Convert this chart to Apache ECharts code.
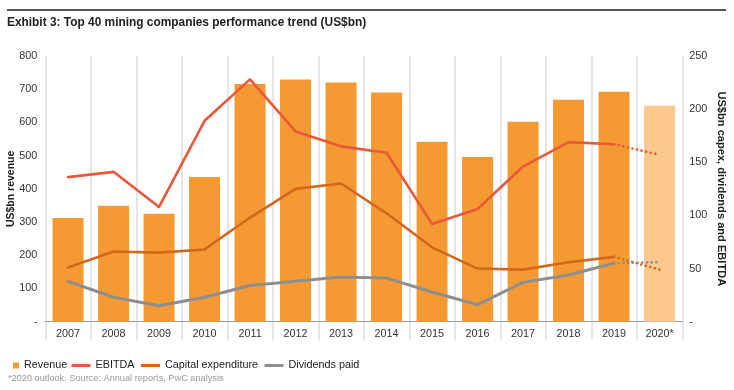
<!DOCTYPE html>
<html>
<head>
<meta charset="utf-8">
<script src="https://cdn.jsdelivr.net/npm/echarts@6/dist/echarts.min.js"></script>
<style>
html,body{margin:0;padding:0;background:#fff;}
#chart{width:734px;height:390px;}
</style>
</head>
<body>
<div id="chart"></div>
<script>
var years = ['2007','2008','2009','2010','2011','2012','2013','2014','2015','2016','2017','2018','2019','2020*'];
var revenue = [312, 349, 325, 436, 716, 729, 720, 690, 542, 496, 602, 668, 692, 650];
var ebitda = [136, 141, 108, 189, 228, 179, 165, 159, 92, 106, 146, 169, 167, 157];
var capex = [51, 66, 65, 68, 98, 125, 130, 102, 70, 50, 49, 56, 61, 49];
var dividends = [38, 23, 15, 23, 34, 38, 42, 41, 28, 16, 37, 44, 55, 56];
var leftTicks = [0, 100, 200, 300, 400, 500, 600, 700, 800];
var rightTicks = [0, 50, 100, 150, 200, 250];

var FONT = 'Liberation Sans, Arial, Helvetica, sans-serif';
var last = years.length - 1;

function solidPart(arr) {
  return arr.map(function (v, i) { return i < last ? v : '-'; });
}
function dottedPart(arr) {
  return arr.map(function (v, i) { return i >= last - 1 ? v : '-'; });
}

var revData = revenue.map(function (v, i) {
  return i === last ? { value: v, itemStyle: { color: '#FBC98E' } } : v;
});

var C_REV = '#F59A33', C_EB = '#EA5739', C_CX = '#D2681D', C_DV = '#8E8E8E';

function lineSeries(name, arr, color, width) {
  return [
    {
      name: name, type: 'line', yAxisIndex: 1, data: solidPart(arr),
      symbol: 'none', z: 3,
      lineStyle: { color: color, width: width, cap: 'round', join: 'round' },
      itemStyle: { color: color }
    },
    {
      name: name + ' outlook', type: 'line', yAxisIndex: 1, data: dottedPart(arr),
      symbol: 'none', z: 3,
      lineStyle: { color: color, width: 2.6, type: [0.1, 4.6], cap: 'round' },
      itemStyle: { color: color }
    }
  ];
}

var chart = echarts.init(document.getElementById('chart'), null, { renderer: 'canvas' });
var option = {
  animation: false,
  backgroundColor: '#fff',
  textStyle: { fontFamily: FONT },
  graphic: [
    { type: 'rect', shape: { x: 7, y: 9, width: 719, height: 2 }, style: { fill: '#555' } },
    { type: 'text', left: 7, top: 16.5, style: { text: 'Exhibit 3: Top 40 mining companies performance trend (US$bn)', font: 'bold 11.9px ' + FONT, fill: '#222' } },
    { type: 'text', left: 8, top: 374, style: { text: '*2020 outlook. Source: Annual reports, PwC analysis', font: '9.2px ' + FONT, fill: '#999' } }
  ],
  grid: { left: 45.3, right: 51.7, top: 56, bottom: 68.3, outerBoundsMode: 'none', containLabel: false },
  legend: [
    {
      left: 8, top: 355, itemWidth: 6, itemHeight: 6, itemGap: 6.5,
      textStyle: { fontSize: 10.8, color: '#222', fontFamily: FONT },
      data: [{ name: 'Revenue', icon: 'rect' }]
    },
    {
      left: 66.5, top: 355, itemWidth: 19, itemHeight: 3, itemGap: 6.5,
      textStyle: { fontSize: 10.8, color: '#222', fontFamily: FONT },
      data: [
        { name: 'EBITDA', icon: 'rect' },
        { name: 'Capital expenditure', icon: 'rect' },
        { name: 'Dividends paid', icon: 'rect' }
      ]
    }
  ],
  xAxis: {
    type: 'category', data: years, boundaryGap: true,
    axisLine: { show: true, lineStyle: { color: '#999', width: 1.2 } },
    axisTick: { show: true, length: 18, interval: 0, lineStyle: { color: '#ddd', width: 1.5 } },
    axisLabel: { color: '#333', fontSize: 10.8, margin: 7, interval: 0, fontFamily: FONT },
    splitLine: { show: true, interval: 0, lineStyle: { color: '#ddd', width: 1.5 } }
  },
  yAxis: [
    {
      type: 'value', min: leftTicks[0], max: leftTicks[leftTicks.length - 1], interval: leftTicks[1] - leftTicks[0],
      name: 'US$bn revenue', nameLocation: 'middle', nameGap: 28.5, nameRotate: 90, nameMoveOverlap: false,
      nameTextStyle: { fontWeight: 'bold', fontSize: 10.5, color: '#222', fontFamily: FONT },
      axisLine: { show: false }, axisTick: { show: false }, splitLine: { show: false },
      axisLabel: { color: '#333', fontSize: 10.8, margin: 8, fontFamily: FONT,
        formatter: function (v) { return v === 0 ? '-' : String(v); } }
    },
    {
      type: 'value', min: rightTicks[0], max: rightTicks[rightTicks.length - 1], interval: rightTicks[1] - rightTicks[0],
      name: 'US$bn capex, dividends and EBITDA', nameLocation: 'middle', nameGap: 33.5, nameRotate: -90, nameMoveOverlap: false,
      nameTextStyle: { fontWeight: 'bold', fontSize: 11.1, color: '#222', fontFamily: FONT },
      axisLine: { show: false }, axisTick: { show: false }, splitLine: { show: false },
      axisLabel: { color: '#333', fontSize: 10.8, margin: 7, fontFamily: FONT,
        formatter: function (v) { return v === 0 ? '-' : String(v); } }
    }
  ],
  series: [
    {
      name: 'Revenue', type: 'bar', yAxisIndex: 0, data: revData, barWidth: 31,
      itemStyle: { color: C_REV }, z: 2
    }
  ].concat(lineSeries('EBITDA', ebitda, C_EB, 2.6))
   .concat(lineSeries('Capital expenditure', capex, C_CX, 2.6))
   .concat(lineSeries('Dividends paid', dividends, C_DV, 3))
};
chart.setOption(option);
</script>
</body>
</html>
